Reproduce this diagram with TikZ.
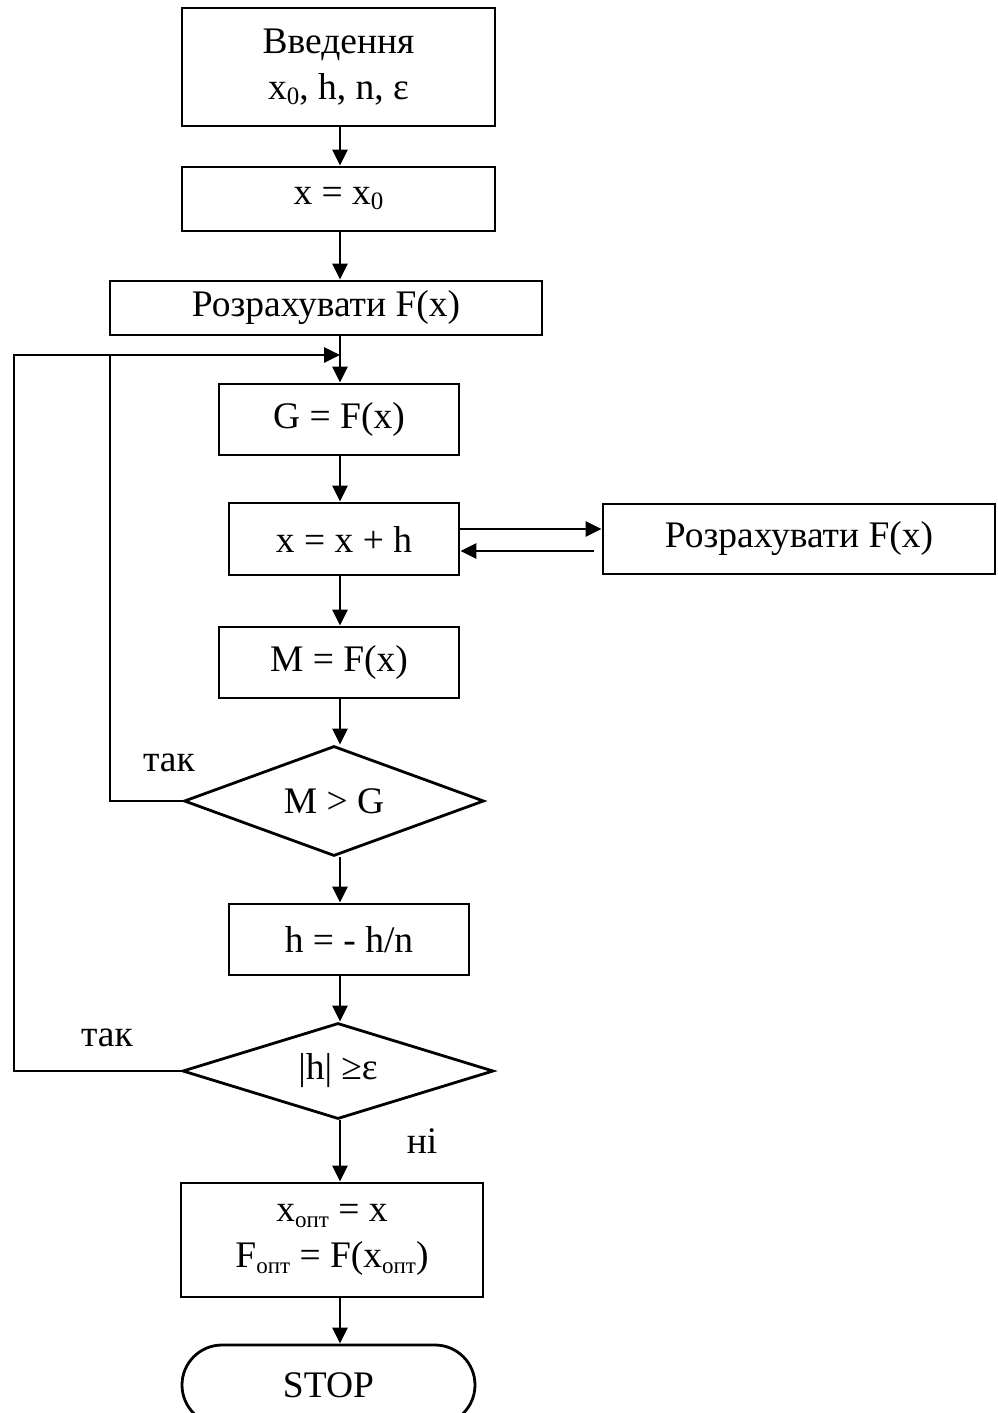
\documentclass[tikz,border=0pt]{standalone}
\usepackage{fontspec}
\setmainfont{Liberation Serif}
\usetikzlibrary{arrows.meta,shapes.geometric}
% lowered indices
\newcommand\subz[1]{\raisebox{-5pt}{\fontsize{25}{25}\selectfont #1}}
\newcommand\subo[1]{\raisebox{-6pt}{\fontsize{23}{23}\selectfont #1}}

\begin{document}
\begin{tikzpicture}[x=1pt,y=-1pt,
  every node/.style={font=\fontsize{37.5}{46}\selectfont},
  blk/.style={draw, line width=2.8pt, inner sep=0pt, align=center},
  dec/.style={draw, diamond, aspect=3, line width=2.8pt, inner sep=0pt},
  term/.style={draw, line width=2.8pt, inner sep=0pt, rounded corners=40pt},
  flow/.style={line width=2.8pt, -{Triangle[length=16pt,width=15pt]}},
  wire/.style={line width=2.8pt}]

\path[use as bounding box, clip] (0,0) rectangle (998,1413);

% main column
\node[blk, minimum width=313pt, minimum height=118pt] (inp) at (338.5,67) {Введення\\x\subz{0}, h, n, ε};
\node[blk, minimum width=313pt, minimum height=64pt] (init) at (338.5,199) {x = x\subz{0}};
\node[blk, minimum width=432pt, minimum height=54pt] (calc) at (326,308) {Розрахувати F(x)};
\node[blk, minimum width=240pt, minimum height=71pt] (g) at (339,419.5) {G = F(x)};
\node[blk, minimum width=230pt, minimum height=72pt] (step) at (344,539) {x = x + h};
\node[blk, minimum width=392pt, minimum height=70pt] (calc2) at (799,539) {Розрахувати F(x)};
\node[blk, minimum width=240pt, minimum height=71pt] (m) at (339,662.5) {M = F(x)};
\node[dec, minimum width=300pt, minimum height=110pt] (cmp) at (334,801) {M > G};
\node[blk, minimum width=240pt, minimum height=71pt] (shrink) at (349,939.5) {h = - h/n};
\node[dec, minimum width=311pt, minimum height=96pt] (tol) at (338,1071) {|h| ≥ε};
\node[blk, minimum width=302pt, minimum height=114pt] (res) at (332,1240) {x\subo{опт} = x\\F\subo{опт} = F(x\subo{опт})};
\node[term, minimum width=293pt, minimum height=80pt] (stop) at (328.5,1385) {STOP};

% branch labels
\node (yes1) at (169,763) {так};
\node (yes2) at (107,1038) {так};
\node (no) at (422,1141) {ні};

% helper coordinates
\coordinate (axis) at (340,0);
\coordinate (join) at (340,355);
\coordinate (inner) at (110,355);
\coordinate (outer) at (14,355);
\coordinate (back) at (594,551);

% vertical flow
\draw[flow] (inp.south -| axis) -- (init.north -| axis);
\draw[flow] (init.south -| axis) -- (calc.north -| axis);
\draw[flow] (calc.south -| axis) -- (g.north -| axis);
\draw[flow] (g.south -| axis) -- (step.north -| axis);
\draw[flow] (step.south -| axis) -- (m.north -| axis);
\draw[flow] (m.south -| axis) -- (cmp.north -| axis);
\draw[flow] (cmp.south -| axis) -- (shrink.north -| axis);
\draw[flow] (shrink.south -| axis) -- (tol.north -| axis);
\draw[flow] (tol.south -| axis) -- (res.north -| axis);
\draw[flow] (res.south -| axis) -- (stop.north -| axis);

% call of the subroutine
\draw[flow] (step.east |- 0,529) -- (calc2.west |- 0,529);
\draw[flow] (back) -- (step.east |- back);

% loops back
\draw[flow] (tol.west) -| (outer) -- (join);
\draw[wire] (cmp.west) -| (inner);
\end{tikzpicture}
\end{document}
